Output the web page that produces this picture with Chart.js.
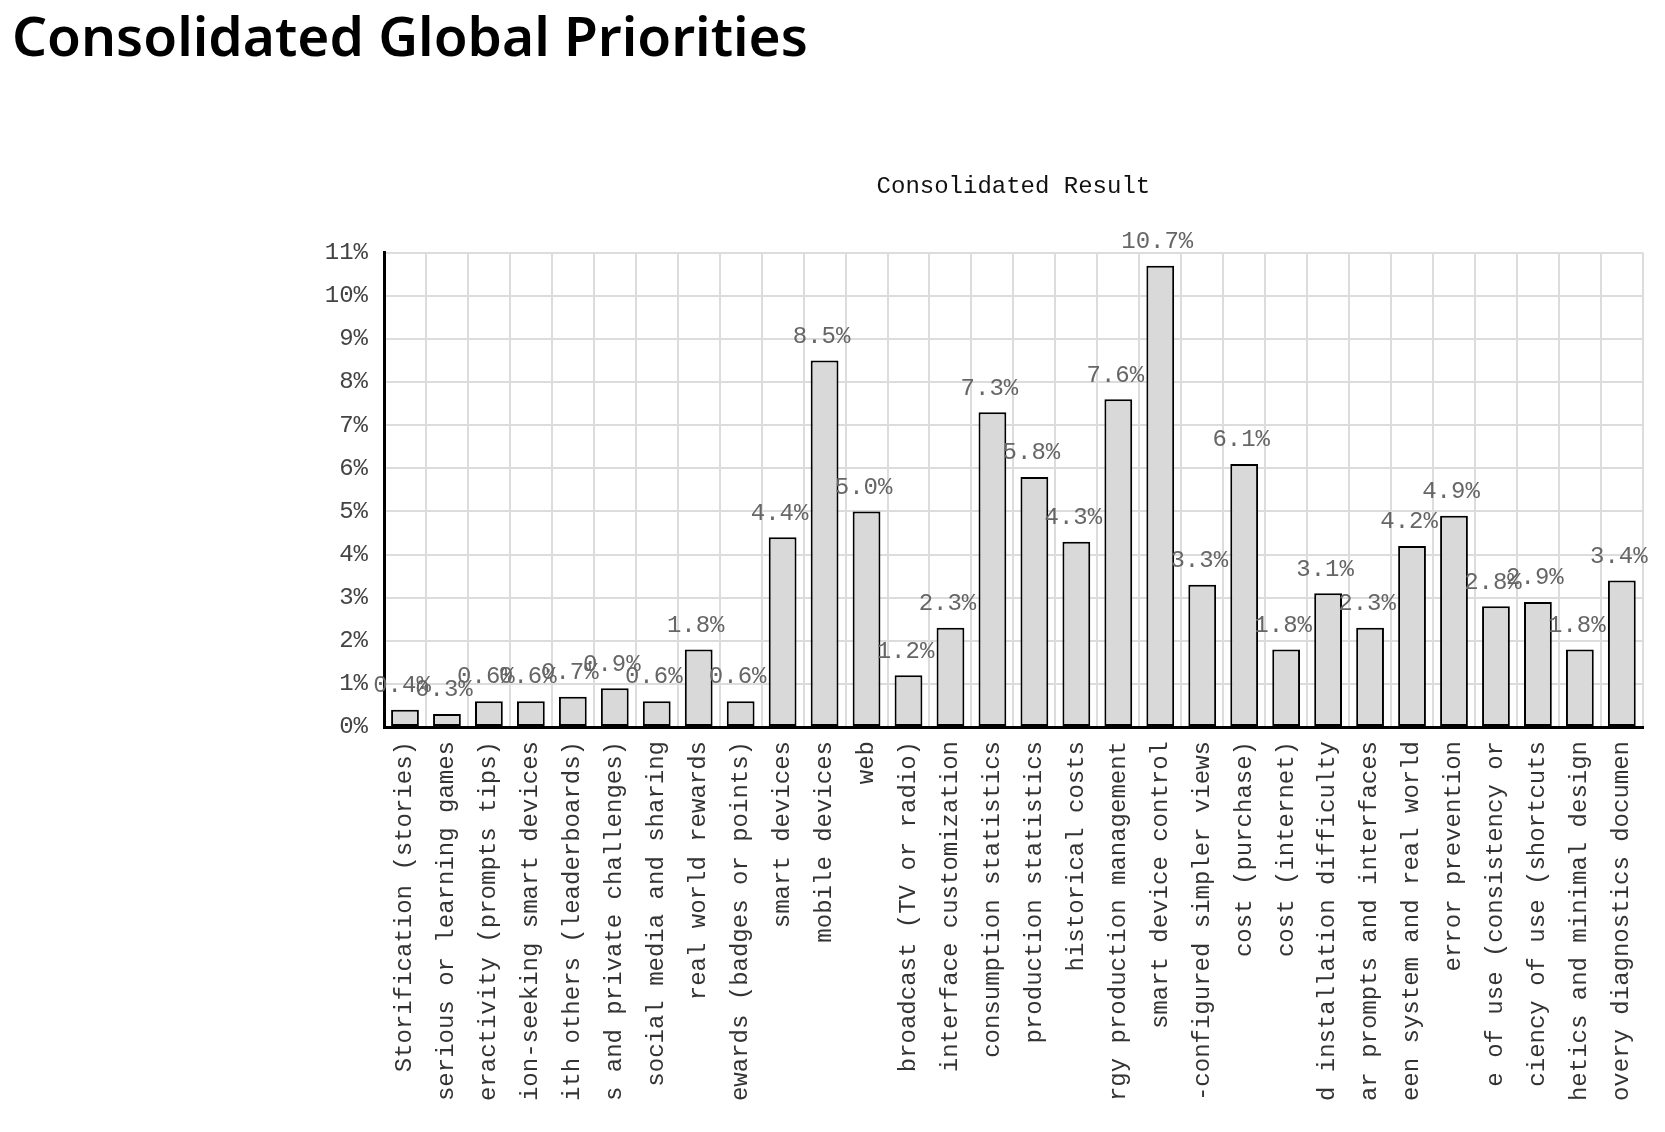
<!DOCTYPE html>
<html>
<head>
<meta charset="utf-8">
<title>Consolidated Global Priorities</title>
<script src="https://cdn.jsdelivr.net/npm/chart.js@4.4.1/dist/chart.umd.min.js"></script>
<style>
    html, body { margin: 0; padding: 0; background: #fff; overflow: hidden; }
    h1 {
        position: absolute; left: 12px; top: 0; margin: 0;
        font-family: "Noto Sans", sans-serif; font-weight: 600;
        font-size: 55px; line-height: 70px; color: #000;
    }
    #wrap { position: absolute; left: 0; top: 150px; width: 1665px; height: 982px; }
</style>
</head>
<body>
<h1>Consolidated Global Priorities</h1>
<div id="wrap"><canvas id="priorityChart"></canvas></div>
<script>
const labels = [
    "Storification (stories)",
    "serious or learning games",
    "eractivity (prompts tips)",
    "ion-seeking smart devices",
    "ith others (leaderboards)",
    "s and private challenges)",
    "social media and sharing",
    "real world rewards",
    "ewards (badges or points)",
    "smart devices",
    "mobile devices",
    "web",
    "broadcast (TV or radio)",
    "interface customization",
    "consumption statistics",
    "production statistics",
    "historical costs",
    "rgy production management",
    "smart device control",
    "-configured simpler views",
    "cost (purchase)",
    "cost (internet)",
    "d installation difficulty",
    "ar prompts and interfaces",
    "een system and real world",
    "error prevention",
    "e of use (consistency or",
    "ciency of use (shortcuts",
    "hetics and minimal design",
    "overy diagnostics documen",
];

const shares = [
    0.4, 0.3, 0.6, 0.6, 0.7, 0.9, 0.6, 1.8, 0.6, 4.4,
    8.5, 5.0, 1.2, 2.3, 7.3, 5.8, 4.3, 7.6, 10.7, 3.3,
    6.1, 1.8, 3.1, 2.3, 4.2, 4.9, 2.8, 2.9, 1.8, 3.4,
];

const yMax = 11;

const monoFont = '"Liberation Mono", "DejaVu Sans Mono", monospace';

// value above every bar, e.g. "4.4%"
const barValueLabels = {
    id: "barValueLabels",
    afterDatasetsDraw(chart) {
        const ctx = chart.ctx;
        const meta = chart.getDatasetMeta(0);
        ctx.save();
        ctx.font = "24px " + monoFont;
        ctx.fillStyle = "#666";
        ctx.textAlign = "center";
        ctx.textBaseline = "bottom";
        meta.data.forEach((bar, i) => {
            ctx.fillText(shares[i].toFixed(1) + "%", bar.x - 3, bar.y - 12);
        });
        ctx.restore();
    },
};

const ctx = document.getElementById("priorityChart");
new Chart(ctx, {
    type: "bar",
    data: {
        labels: labels,
        datasets: [
            {
                label: "Consolidated Result",
                data: shares,
                backgroundColor: "#d9d9d9",
                borderColor: "#000",
                borderWidth: 2,
                borderSkipped: false,
                barPercentage: 0.72,
                categoryPercentage: 0.92,
            },
        ],
    },
    options: {
        responsive: true,
        maintainAspectRatio: false,
        animation: false,
        layout: {
            padding: { top: 0, right: 22, bottom: 0, left: 0 },
        },
        plugins: {
            legend: { display: false },
            tooltip: { enabled: false },
            title: {
                display: true,
                text: "Consolidated Result",
                fullSize: false,
                color: "#111",
                font: { family: monoFont, size: 24, weight: "normal" },
                padding: { top: 22, bottom: 52 },
            },
        },
        scales: {
            x: {
                afterFit: (scale) => { scale.height = 405; },
                grid: { color: "#dcdcdc", lineWidth: 2, drawTicks: false, offset: true },
                border: { color: "#000", width: 3 },
                ticks: {
                    autoSkip: false,
                    minRotation: 90,
                    maxRotation: 90,
                    padding: 14,
                    color: "#333",
                    font: { family: monoFont, size: 24 },
                },
            },
            y: {
                min: 0,
                max: yMax,
                afterFit: (scale) => { scale.width = 384; },
                grid: { color: "#dcdcdc", lineWidth: 2, drawTicks: false },
                border: { color: "#000", width: 3 },
                ticks: {
                    stepSize: 1,
                    padding: 16,
                    color: "#444",
                    font: { family: monoFont, size: 24 },
                    callback: (v) => v + "%",
                },
            },
        },
    },
    plugins: [barValueLabels],
});
</script>
</body>
</html>
